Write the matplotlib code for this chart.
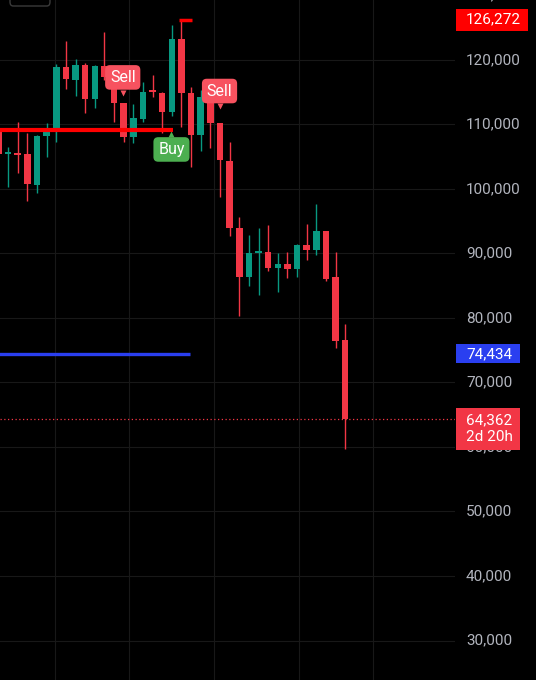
import matplotlib
matplotlib.use("Agg")
import matplotlib.pyplot as plt
import matplotlib.transforms as mtransforms
from matplotlib.patches import Rectangle, FancyBboxPatch

plt.rcParams["font.family"] = ["Roboto", "DejaVu Sans"]

# ============================================
# DATA
# ============================================

opens = [109150, 105500, 105580, 105430, 100620, 108220, 108990, 118910, 116900, 119220,
         113950, 119070, 117360, 113330, 108060, 110850, 115350, 114880, 111940, 123260,
         114880, 108370, 114260, 110230, 104340, 93950, 86360, 90080, 90230, 87750,
         88370, 87600, 91320, 90540, 93490, 86360, 76590]
highs = [109460, 106500, 110390, 108680, 108300, 110230, 119380, 122950, 120150, 119530,
         119220, 124340, 117670, 113400, 113180, 116590, 117670, 115040, 125430, 126272,
         115810, 115350, 114880, 110300, 107290, 95660, 92870, 93950, 94420, 90080,
         90230, 91470, 94570, 97670, 93550, 90230, 79070]
lows = [104800, 100300, 102480, 98140, 99380, 104960, 107290, 115500, 114420, 111780,
        112560, 116900, 110390, 107290, 107130, 110390, 114260, 108680, 111320, 109610,
        103410, 105890, 106360, 98760, 92710, 80310, 84960, 83570, 87290, 84030,
        86200, 86360, 88990, 89770, 85740, 75350, 59690]
closes = [105430, 105600, 105270, 100780, 108220, 108840, 118910, 117050, 119220, 113950,
          119070, 117360, 113330, 108060, 111010, 115040, 115040, 111940, 123260, 114880,
          108370, 114260, 110230, 104500, 93950, 86360, 90080, 90230, 87750, 88370,
          87600, 91320, 90540, 93490, 86050, 76440, 64362]

y_ticks = [30000, 40000, 50000, 60000, 70000, 80000, 90000, 100000, 110000, 120000, 130000]
time_grid = [5.87, 13.55, 22.4, 31.2, 38.9]

red_level = 109200
blue_level = 74434
high_mark = 126272
last_price = 64362
countdown = "2d 20h"

signals = [("Sell", 12.9, 117300), ("Buy", 17.96, 106130), ("Sell", 22.95, 115190)]

GREEN = "#089981"
RED = "#f23645"
GRID = "#181818"
TXT = "#b2b5be"

# ============================================
# FIGURE
# ============================================

fig = plt.figure(figsize=(5.36, 6.8), dpi=100)
fig.patch.set_facecolor("black")
ax = fig.add_axes([0, 0, 455 / 536, 1])
ax.set_facecolor("black")
for s in ax.spines.values():
    s.set_visible(False)
ax.set_xticks([])
ax.set_yticks([])
ax.set_xlim(0.156, 47.4)
ax.set_ylim(23876, 129302)

for v in y_ticks:
    ax.axhline(v, color=GRID, lw=0.8, zorder=0)
for gx in time_grid:
    ax.axvline(gx, color=GRID, lw=0.8, zorder=0)

# ============================================
# CANDLES
# ============================================

for i in range(len(opens)):
    o, h, l, c = opens[i], highs[i], lows[i], closes[i]
    col = GREEN if c >= o else RED
    ax.vlines(i, l, h, color=col, lw=1.0, zorder=2)
    body = max(abs(c - o), 250)
    ax.bar(i, body, bottom=min(o, c), width=0.68, color=col, zorder=3)

# levels
ax.hlines(red_level, 0, 18.1, color="#ff0000", lw=3, zorder=4)
ax.hlines(blue_level, 0, 19.9, color="#2a3ff0", lw=2.4, zorder=4)
ax.hlines(high_mark, 18.7, 20.1, color="#ff0000", lw=2.5, zorder=4)
ax.axhline(last_price, color=RED, lw=0.9, ls=(0, (1, 2)), zorder=1)

# signal labels
for name, xi, yv in signals:
    bg = "#f7525f" if name == "Sell" else "#4caf50"
    ax.text(xi, yv, name, color="white", fontsize=11.5, ha="center", va="center",
            zorder=6, bbox=dict(boxstyle="round,pad=0.3,rounding_size=0.3",
                                fc=bg, ec="none"))
    if name == "Sell":
        ax.plot(xi, yv - 2350, marker="v", ms=5, color=bg, mec="none", zorder=5)
    else:
        ax.plot(xi, yv + 2350, marker="^", ms=5, color=bg, mec="none", zorder=5)

# ============================================
# PRICE SCALE
# ============================================

tr = mtransforms.blended_transform_factory(fig.transFigure, ax.transData)
px = 1 / 536

for v in y_ticks:
    ax.text(466 * px, v, f"{v:,}", transform=tr, color=TXT, fontsize=11,
            ha="left", va="center", clip_on=False, zorder=3)

vpp = 155.04  # price per pixel

def price_box(value, text, color, x0, x1, h_px, yc):
    ax.add_patch(Rectangle((x0 * px, yc - h_px / 2 * vpp), (x1 - x0) * px, h_px * vpp,
                           transform=tr, fc=color, ec="none", clip_on=False, zorder=7))
    ax.text(466 * px, yc, text, transform=tr, color="white", fontsize=11,
            ha="left", va="center", clip_on=False, zorder=8, linespacing=1.2)

price_box(high_mark, f"{high_mark:,}", "#ff0000", 456, 528, 22, high_mark)
price_box(blue_level, f"{blue_level:,}", "#2a3ff0", 456, 520, 19, blue_level)
price_box(last_price, f"{last_price:,}\n{countdown}", RED, 456, 520, 42, last_price - 1500)

# partial toolbar box at top left
fig.patches.append(FancyBboxPatch((10 * px, 1 - 6 / 680), 40 * px, 20 / 680,
                                  boxstyle="round,pad=0,rounding_size=0.006",
                                  transform=fig.transFigure, fc="none",
                                  ec="#3a3a3a", lw=1))

fig.savefig("out.png", dpi=100, facecolor="black")
